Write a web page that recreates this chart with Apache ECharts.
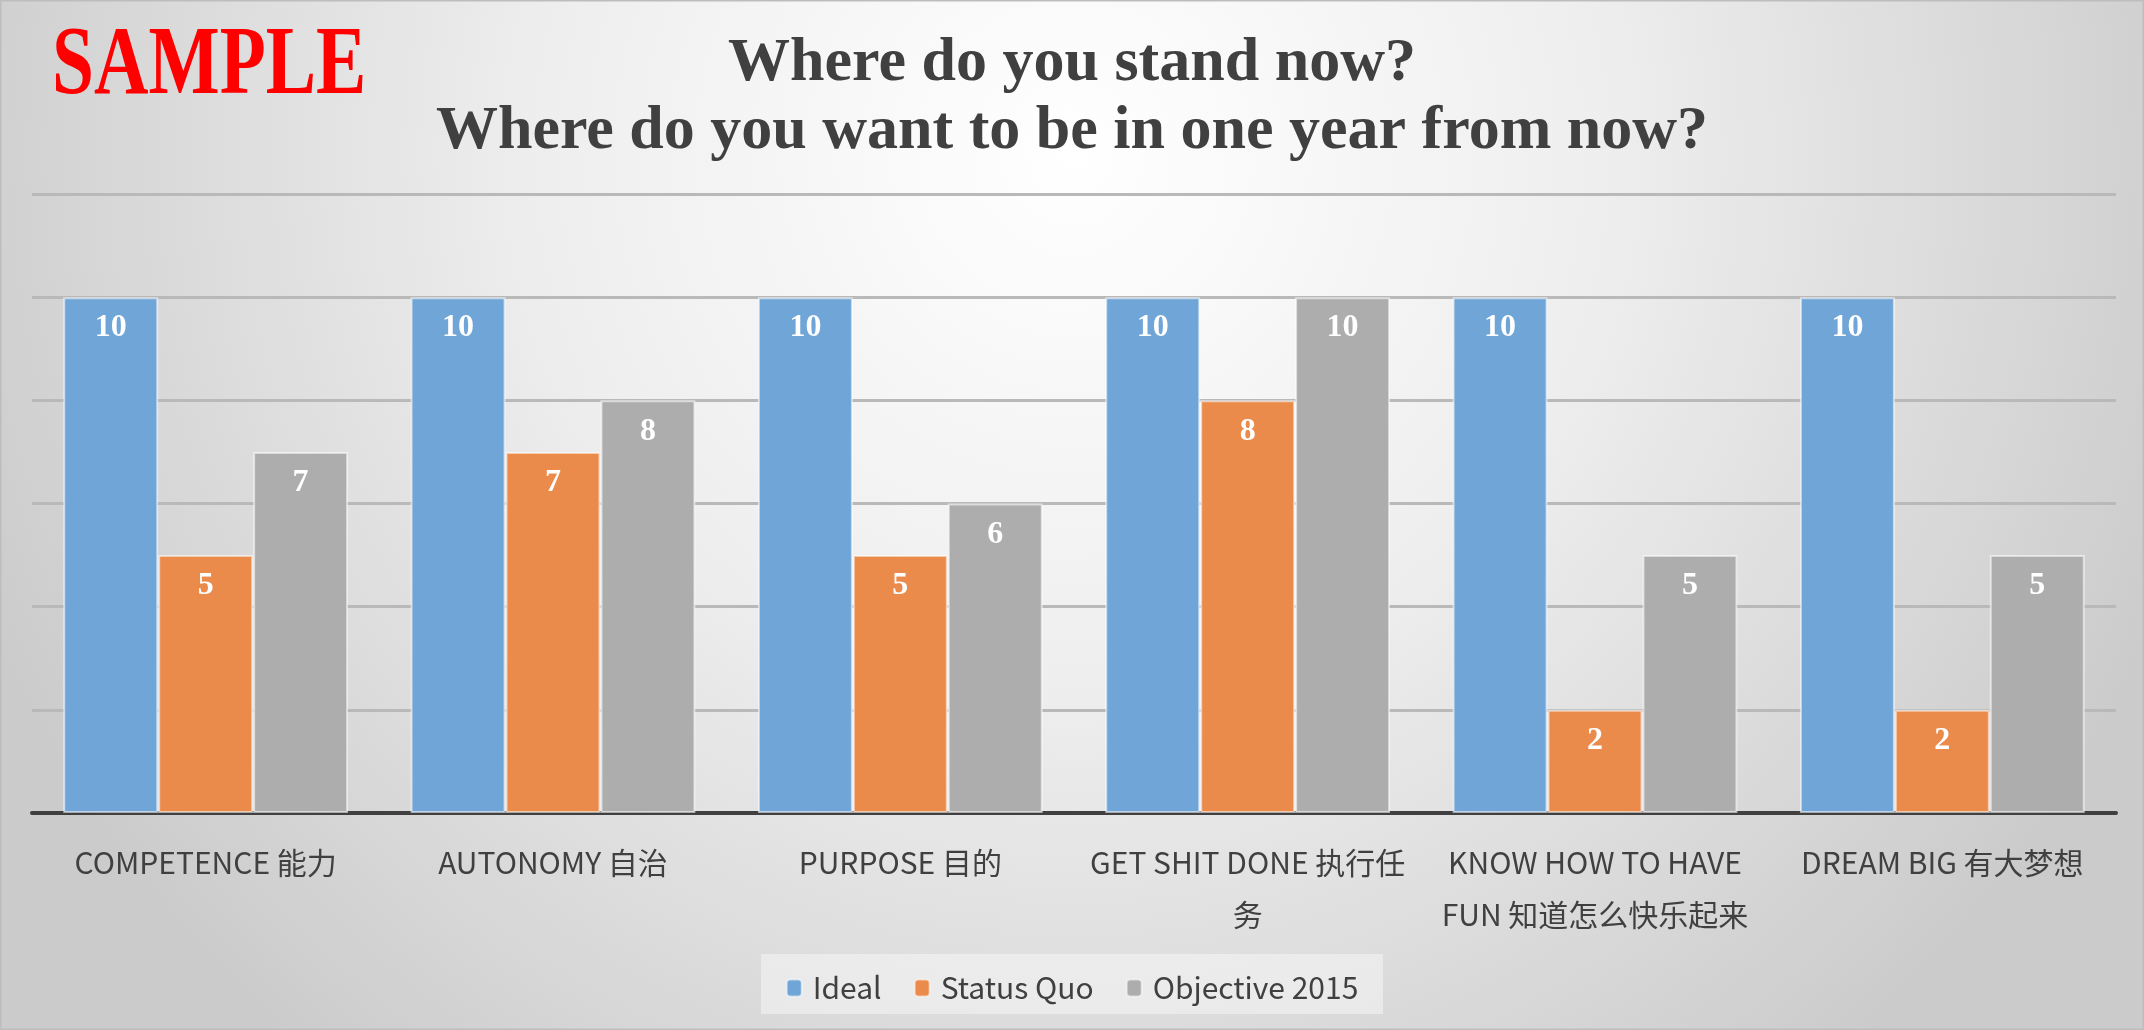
<!DOCTYPE html>
<html><head><meta charset="utf-8">
<script src="https://cdn.jsdelivr.net/npm/echarts@6/dist/echarts.min.js"></script>
<style>html,body{margin:0;padding:0;}#c{width:2144px;height:1030px;}</style>
</head><body><div id="c"></div>
<script>
const categories = ['COMPETENCE 能力', 'AUTONOMY 自治', 'PURPOSE 目的', 'GET SHIT DONE 执行任\n务', 'KNOW HOW TO HAVE\nFUN 知道怎么快乐起来', 'DREAM BIG 有大梦想'];
const seriesNames = ['Ideal', 'Status Quo', 'Objective 2015'];
const ideal = [10, 10, 10, 10, 10, 10];
const statusQuo = [5, 7, 5, 8, 2, 2];
const objective2015 = [7, 8, 6, 10, 5, 5];
const colors = ['#6fa5d7', '#ea8b4b', '#adadad'];
const titleText = 'Where do you stand now?\nWhere do you want to be in one year from now?';

const chart = echarts.init(document.getElementById('c'));
const labelFont = '"Liberation Sans Narrow", "Noto Sans CJK SC", sans-serif';
function mk(name, data, color) {
  return {
    name, type: 'bar', data,
    barGap: '0%', barCategoryGap: '18%',
    itemStyle: { color, borderColor: 'rgba(255,255,255,0.55)', borderWidth: 2 },
    label: { show: true, position: 'insideTop', distance: 15, color: '#fff',
      fontFamily: '"Liberation Serif", serif', fontWeight: 'bold', fontSize: 32 }
  };
}
chart.setOption({
  animation: false,
  graphic: [
    { type: 'rect', z: -10, silent: true, shape: { x: 0, y: 0, width: 2144, height: 1030 },
      style: { fill: { type: 'radial', x: 0.5, y: 0.15, r: 1.15,
        colorStops: [{ offset: 0, color: '#ffffff' }, { offset: 0.45, color: '#eeeeee' }, { offset: 1, color: '#cbcbcb' }] },
        stroke: '#bdbdbd', lineWidth: 3 } },
    { type: 'rect', z: -5, silent: true, shape: { x: 761, y: 954, width: 622, height: 60 },
      style: { fill: 'rgba(245,245,245,0.55)' } },
    { type: 'text', x: 52, y: 68, scaleX: 0.77, z: 10,
      style: { text: 'SAMPLE', font: 'bold 98px "Liberation Serif"', fill: '#ff0000', textVerticalAlign: 'middle' } }
  ],
  title: { text: titleText, left: 'center', top: 30, padding: 0,
    textStyle: { fontFamily: '"Liberation Serif", serif', fontWeight: 'bold', fontSize: 62, lineHeight: 68, color: '#404040' } },
  legend: { data: seriesNames, left: 'center', top: 968, itemWidth: 15, itemHeight: 17, itemGap: 32,
    textStyle: { fontFamily: labelFont, fontSize: 30, color: '#404040', padding: [0, 0, 0, 6] } },
  grid: { left: 32, right: 28, top: 194, bottom: 217, containLabel: false },
  xAxis: { type: 'category', data: categories,
    axisLine: { lineStyle: { color: '#404040', width: 4 } }, axisTick: { show: false },
    axisLabel: { interval: 0, margin: 24, color: '#404040', fontFamily: labelFont, fontSize: 30, lineHeight: 52, verticalAlign: 'top' } },
  yAxis: { type: 'value', min: 0, max: 12, interval: 2,
    axisLabel: { show: false }, axisLine: { show: false }, axisTick: { show: false },
    splitLine: { lineStyle: { color: '#b9b9b9', width: 3 } } },
  series: [mk(seriesNames[0], ideal, colors[0]), mk(seriesNames[1], statusQuo, colors[1]), mk(seriesNames[2], objective2015, colors[2])]
});
</script></body></html>
